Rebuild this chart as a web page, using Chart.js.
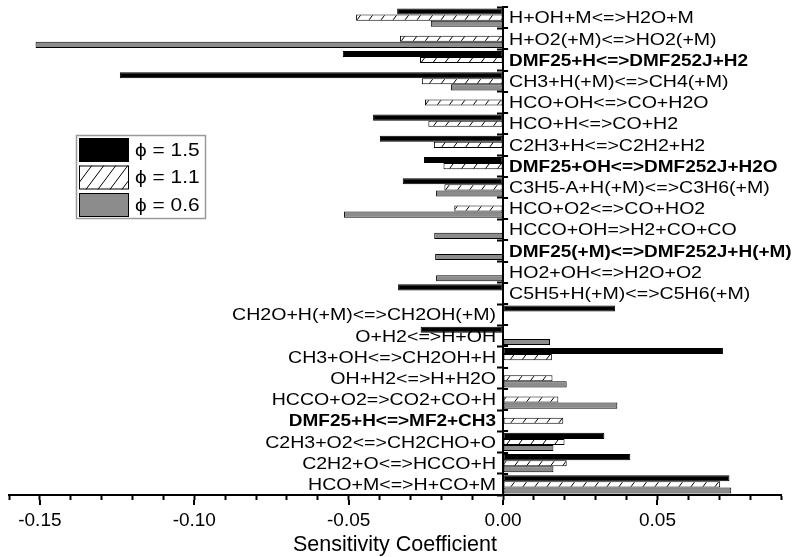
<!DOCTYPE html>
<html>
<head>
<meta charset="utf-8">
<script src="https://cdn.jsdelivr.net/npm/chart.js@4.4.1/dist/chart.umd.min.js"></script>
<style>
    html, body { margin: 0; padding: 0; background: #fff; }
    #wrap { width: 800px; height: 557px; }
</style>
</head>
<body>
<div id="wrap"><canvas id="sens"></canvas></div>
<script>
// reactions, top to bottom
const reactions = [
    'H+OH+M<=>H2O+M',
    'H+O2(+M)<=>HO2(+M)',
    'DMF25+H<=>DMF252J+H2',
    'CH3+H(+M)<=>CH4(+M)',
    'HCO+OH<=>CO+H2O',
    'HCO+H<=>CO+H2',
    'C2H3+H<=>C2H2+H2',
    'DMF25+OH<=>DMF252J+H2O',
    'C3H5-A+H(+M)<=>C3H6(+M)',
    'HCO+O2<=>CO+HO2',
    'HCCO+OH=>H2+CO+CO',
    'DMF25(+M)<=>DMF252J+H(+M)',
    'HO2+OH<=>H2O+O2',
    'C5H5+H(+M)<=>C5H6(+M)',
    'CH2O+H(+M)<=>CH2OH(+M)',
    'O+H2<=>H+OH',
    'CH3+OH<=>CH2OH+H',
    'OH+H2<=>H+H2O',
    'HCCO+O2=>CO2+CO+H',
    'DMF25+H<=>MF2+CH3',
    'C2H3+O2<=>CH2CHO+O',
    'C2H2+O<=>HCCO+H',
    'HCO+M<=>H+CO+M'
];
const boldReactions = [2, 7, 11, 19];
const rightLabelCount = 14; // first rows carry their label right of zero

const phi15 = [-0.0343, 0, -0.0519, -0.1241, 0, -0.0421, -0.0399, -0.0256, -0.0325, 0, 0, 0, 0, -0.0340,
    0.0363, -0.0267, 0.0712, 0, 0, 0, 0.0328, 0.0412, 0.0733];
const phi11 = [-0.0476, -0.0334, -0.0269, -0.0263, -0.0253, -0.0242, -0.0224, -0.0193, -0.0190, -0.0158, 0, 0, 0, 0,
    0, 0, 0.0158, 0.0160, 0.0179, 0.0195, 0.0199, 0.0206, 0.0703];
const phi06 = [-0.0234, -0.1514, 0, -0.0169, 0, 0, 0, 0, -0.0217, -0.0515, -0.0223, -0.0220, -0.0217, 0,
    0, 0.0152, 0, 0.0206, 0.0370, 0, 0.0163, 0.0163, 0.0739];

const seriesLabels = ['\u03d5 = 1.5', '\u03d5 = 1.1', '\u03d5 = 0.6'];
const xMajorLabels = ['-0.15', '-0.10', '-0.05', '0.00', '0.05'];

const FONT = '"Liberation Sans", Arial, sans-serif';
const GREY = '#8c8c8c';

// diagonal hatch for phi = 1.1
function makeHatch() {
    const w = 12, h = 16;
    const c = document.createElement('canvas');
    c.width = w;
    c.height = h;
    const g = c.getContext('2d');
    g.fillStyle = '#fff';
    g.fillRect(0, 0, w, h);
    g.strokeStyle = '#000';
    g.lineWidth = 1;
    [-w, 0, w].forEach(dx => {
        g.beginPath();
        g.moveTo(dx, h);
        g.lineTo(dx + w, 0);
        g.stroke();
    });
    return g.createPattern(c, 'repeat');
}
const hatch = makeHatch();

function stretchText(ctx, text, x, y, font, align, sx) {
    ctx.save();
    ctx.font = font;
    ctx.textAlign = align;
    ctx.textBaseline = 'middle';
    ctx.translate(x, y);
    ctx.scale(sx, 1);
    ctx.fillText(text, 0, 0);
    ctx.restore();
}

const reactionLabels = {
    id: 'reactionLabels',
    afterDraw(chart) {
        const { ctx, scales: { x, y } } = chart;
        const zero = x.getPixelForValue(0);
        ctx.save();
        ctx.fillStyle = '#000';
        reactions.forEach((name, i) => {
            const yy = y.getPixelForValue(i) + 1;
            const font = boldReactions.includes(i) ? 'bold 16.5px ' + FONT : '17px ' + FONT;
            if (i < rightLabelCount) {
                stretchText(ctx, name, zero + 6, yy, font, 'left', 1.15);
            } else {
                stretchText(ctx, name, zero - 7, yy, font, 'right', 1.15);
            }
        });
        ctx.restore();
    }
};

// longer marks on the labelled x ticks, and y ticks crossing the zero line
const tickMarks = {
    id: 'tickMarks',
    afterDraw(chart) {
        const { ctx, chartArea, scales: { x, y } } = chart;
        const zero = x.getPixelForValue(0);
        ctx.save();
        ctx.strokeStyle = '#000';
        ctx.lineWidth = 2;
        ctx.beginPath();
        x.ticks.forEach(t => {
            if (Math.round(t.value * 100) % 5 === 0) {
                const px = Math.round(x.getPixelForValue(t.value));
                ctx.moveTo(px, chartArea.bottom + 5);
                ctx.lineTo(px, chartArea.bottom + 10);
            }
        });
        for (let i = 0; i <= reactions.length; i++) {
            const py = Math.round(y.getPixelForValue(i - 0.5));
            ctx.moveTo(zero, py);
            ctx.lineTo(zero + 5, py);
        }
        ctx.stroke();
        ctx.restore();
    }
};

const boxLegend = {
    id: 'boxLegend',
    afterDraw(chart) {
        const ctx = chart.ctx;
        const fills = ['#000', hatch, GREY];
        ctx.save();
        ctx.fillStyle = '#fff';
        ctx.fillRect(76, 135, 130, 84);
        ctx.strokeStyle = '#999';
        ctx.lineWidth = 1.5;
        ctx.strokeRect(76.5, 135.5, 129, 83);
        seriesLabels.forEach((label, i) => {
            const top = 138 + i * 27.5;
            ctx.fillStyle = fills[i];
            ctx.fillRect(79, top, 50, 24);
            ctx.strokeStyle = '#000';
            ctx.lineWidth = 1;
            ctx.strokeRect(79.5, top + 0.5, 49, 23);
            ctx.fillStyle = '#000';
            stretchText(ctx, label, 135, top + 12.5, '18.5px ' + FONT, 'left', 1.13);
        });
        ctx.restore();
    }
};

const xTickValues = [];
for (let k = -16; k <= 9; k++) xTickValues.push(k / 100);

new Chart(document.getElementById('sens'), {
    type: 'bar',
    data: {
        labels: reactions,
        datasets: [
            { label: seriesLabels[0], data: phi15, backgroundColor: '#000' },
            { label: seriesLabels[1], data: phi11, backgroundColor: hatch },
            { label: seriesLabels[2], data: phi06, backgroundColor: GREY }
        ]
    },
    options: {
        indexAxis: 'y',
        responsive: true,
        maintainAspectRatio: false,
        animation: false,
        layout: { padding: { left: 9, right: 19, top: 7, bottom: 0 } },
        datasets: {
            bar: {
                categoryPercentage: 0.86,
                barPercentage: 1.0,
                borderColor: '#000',
                borderWidth: 1,
                borderSkipped: false
            }
        },
        plugins: {
            legend: { display: false },
            tooltip: { enabled: false }
        },
        scales: {
            x: {
                type: 'linear',
                min: -0.16,
                max: 0.09,
                afterBuildTicks: s => { s.ticks = xTickValues.map(v => ({ value: v })); },
                afterFit: s => { s.height = 62; },
                grid: { drawOnChartArea: false, tickLength: 5, tickWidth: 2, tickColor: '#000' },
                border: { color: '#000', width: 2 },
                ticks: {
                    autoSkip: false,
                    maxRotation: 0,
                    color: '#000',
                    padding: 9,
                    font: { family: FONT, size: 19 },
                    callback: v => {
                        const k = Math.round(v * 100);
                        return k % 5 === 0 ? xMajorLabels[(k + 15) / 5] : '';
                    }
                },
                title: {
                    display: true,
                    text: 'Sensitivity Coefficient',
                    color: '#000',
                    font: { family: FONT, size: 21.5 },
                    padding: { top: 0, bottom: -1 }
                }
            },
            y: {
                type: 'category',
                position: { x: 0 },
                z: 1,
                afterFit: s => { s.width = 0; },
                grid: { offset: true, drawOnChartArea: false, tickLength: 5, tickWidth: 2, tickColor: '#000' },
                border: { color: '#000', width: 2 },
                ticks: { display: false }
            }
        }
    },
    plugins: [reactionLabels, tickMarks, boxLegend]
});
</script>
</body>
</html>
